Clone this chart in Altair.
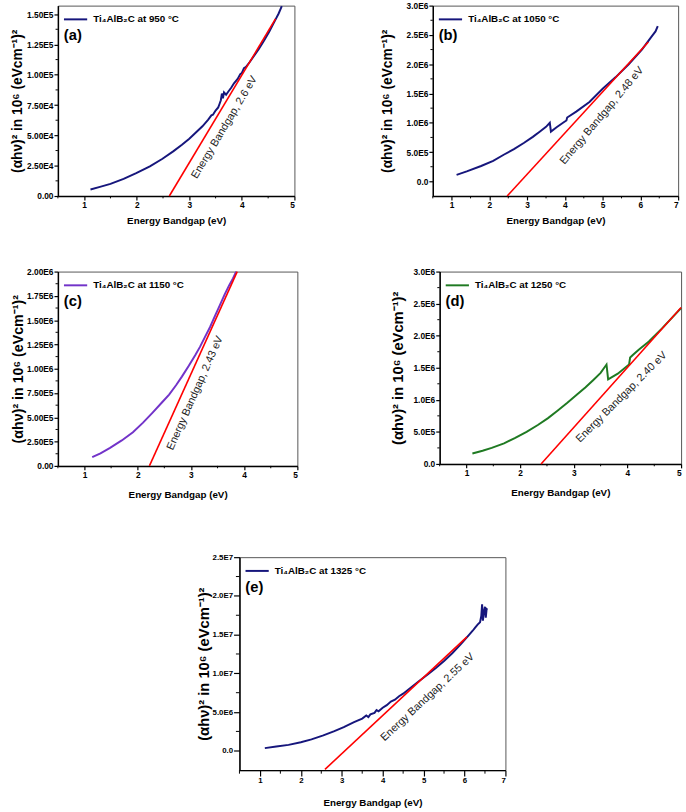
import altair as alt
import pandas as pd

FONT = "Liberation Sans"
NAVY = "#16167c"
PURPLE = "#7233c9"
GREEN = "#1f7a22"
RED = "#ff0000"

X_TITLE = "Energy Bandgap (eV)"
Y_TITLE = "(αhν)² in 10⁶ (eVcm⁻¹)²"

# ---------------- panel (a) ----------------
a_x = [1.12, 1.30, 1.50, 1.75, 1.99, 2.25, 2.49, 2.70, 2.86, 3.00, 3.11, 3.25, 3.36, 3.42,
       3.45, 3.50, 3.55, 3.58, 3.60, 3.62, 3.64, 3.66, 3.70, 3.74, 3.80, 3.85, 3.92, 3.97,
       4.00, 4.04, 4.08, 4.15, 4.23, 4.32, 4.42, 4.52, 4.61, 4.70, 4.76]
a_y = [5400, 7500, 10000, 14200, 18900, 24500, 30700, 37000, 42300, 47300, 51700, 57500,
       63000, 66500, 67000, 70500, 73000, 76500, 79000, 84500, 80500, 85500, 83500, 86000,
       89500, 93000, 96500, 100500, 101500, 105500, 106500, 110500, 115500, 121000, 128000,
       135500, 143000, 150500, 156500]
a_fit_x = [2.62, 4.64]
a_fit_y = [0, 146000]
a_note = ["Energy Bandgap, 2.6 eV"]
a_note_x = [3.67]
a_note_y = [56600]
a_legend = "Ti₄AlB₂C at 950 °C"
a_yticks = [0, 25000, 50000, 75000, 100000, 125000, 150000]
a_yminor = [12500, 37500, 62500, 87500, 112500, 137500]

# ---------------- panel (b) ----------------
b_x = [1.13, 1.40, 1.78, 2.10, 2.39, 2.65, 2.91, 3.15, 3.34, 3.50, 3.60, 3.63, 3.78, 3.95,
       4.04, 4.06, 4.30, 4.65, 5.00, 5.34, 5.69, 6.04, 6.30, 6.40, 6.46]
b_y = [112000, 170000, 263000, 350000, 459000, 550000, 655000, 760000, 852000, 930000,
       1000000, 850000, 924000, 1000000, 1040000, 1090000, 1190000, 1356000, 1580000,
       1776000, 2000000, 2250000, 2476000, 2560000, 2650000]
b_fit_x = [2.47, 6.21]
b_fit_y = [-250000, 2380000]
b_note = ["Energy Bandgap, 2.48 eV"]
b_note_x = [4.98]
b_note_y = [1120000]
b_legend = "Ti₄AlB₂C at 1050 °C"
b_yticks = [0, 500000, 1000000, 1500000, 2000000, 2500000, 3000000]
b_yminor = [250000, 750000, 1250000, 1750000, 2250000, 2750000]

# ---------------- panel (c) ----------------
c_x = [1.145, 1.30, 1.48, 1.70, 1.91, 2.10, 2.28, 2.45, 2.59, 2.72, 2.83, 2.96, 3.08,
       3.17, 3.26, 3.36, 3.45, 3.54, 3.63, 3.72, 3.79, 3.85]
c_y = [91000, 130000, 185000, 262000, 347000, 445000, 549000, 650000, 734000, 830000,
       919000, 1030000, 1138000, 1225000, 1323000, 1430000, 1542000, 1650000, 1761000,
       1860000, 1930000, 2000000]
c_fit_x = [2.22, 3.87]
c_fit_y = [0, 2000000]
c_note = ["Energy Bandgap, 2.43 eV"]
c_note_x = [3.08]
c_note_y = [750000]
c_legend = "Ti₄AlB₂C at 1150 °C"
c_yticks = [0, 250000, 500000, 750000, 1000000, 1250000, 1500000, 1750000, 2000000]
c_yminor = [125000, 375000, 625000, 875000, 1125000, 1375000, 1625000, 1875000]

# ---------------- panel (d) ----------------
d_x = [1.11, 1.30, 1.47, 1.70, 1.90, 2.12, 2.33, 2.52, 2.69, 2.88, 3.06, 3.22, 3.36, 3.50,
       3.61, 3.64, 3.82, 4.03, 4.05, 4.10, 4.21, 4.40, 4.64, 4.82, 5.00]
d_y = [163000, 205000, 250000, 320000, 403000, 500000, 607000, 715000, 827000, 955000,
       1082000, 1195000, 1306000, 1420000, 1550000, 1320000, 1408000, 1550000, 1660000,
       1700000, 1780000, 1910000, 2110000, 2270000, 2430000]
d_fit_x = [2.39, 5.00]
d_fit_y = [0, 2440000]
d_note = ["Energy Bandgap, 2.40 eV"]
d_note_x = [3.89]
d_note_y = [1040000]
d_legend = "Ti₄AlB₂C at 1250 °C"
d_yticks = [0, 500000, 1000000, 1500000, 2000000, 2500000, 3000000]
d_yminor = [250000, 750000, 1250000, 1750000, 2250000, 2750000]

# ---------------- panel (e) ----------------
e_x = [1.12, 1.40, 1.70, 2.00, 2.26, 2.55, 2.82, 3.05, 3.30, 3.50, 3.60, 3.65, 3.70, 3.80,
       3.85, 3.90, 4.00, 4.10, 4.20, 4.30, 4.40, 4.50, 4.70, 4.90, 5.10, 5.30, 5.50, 5.70,
       5.90, 6.10, 6.20, 6.26, 6.32, 6.38, 6.41, 6.43, 6.45, 6.47, 6.50, 6.52, 6.54, 6.56]
e_y = [340000, 550000, 760000, 1100000, 1470000, 1980000, 2530000, 3050000, 3700000,
       4150000, 4550000, 4350000, 4700000, 4900000, 5250000, 5100000, 5550000, 5890000,
       6350000, 6600000, 7050000, 7370000, 8200000, 9050000, 9850000, 10700000, 11600000,
       12600000, 13700000, 14900000, 15500000, 15900000, 16300000, 16600000, 17400000,
       18900000, 16800000, 17800000, 18600000, 17200000, 18300000, 18200000]
e_fit_x = [2.59, 6.06]
e_fit_y = [-2400000, 14700000]
e_note = ["Energy Bandgap, 2.55 eV"]
e_note_x = [5.10]
e_note_y = [6900000]
e_legend = "Ti₄AlB₂C at 1325 °C"
e_yticks = [0, 5000000, 10000000, 15000000, 20000000, 25000000]
e_yminor = [2500000, 7500000, 12500000, 17500000, 22500000]

x5_ticks = [1, 2, 3, 4, 5]
x5_minor = [0.5, 1.5, 2.5, 3.5, 4.5]
x7_ticks = [1, 2, 3, 4, 5, 6, 7]
x7_minor = [0.5, 1.5, 2.5, 3.5, 4.5, 5.5, 6.5]


def label_expr(dec):
    zero = "0." + "0" * dec
    mag = "floor(log(datum.value) / LN10 + 0.000001)"
    return (f"datum.value == 0 ? '{zero}' : format(datum.value / pow(10, {mag}), '.{dec}f') "
            f"+ 'E' + {mag}")


def panel(xs, ys, color, legend_text, fit_x, fit_y, note, note_x, note_y, angle,
          tag, xdom, ydom, xticks, xminor, yticks, yminor, dec, w, h,
          ytitle_size, ytpad, lab_size, tick, xtpad):
    df = pd.DataFrame({"x": xs, "y": ys, "series": [legend_text] * len(xs)})
    fit = pd.DataFrame({"x": fit_x, "y": fit_y})
    nt = pd.DataFrame({"x": note_x, "y": note_y, "t": note})
    xsc = alt.Scale(domain=xdom, nice=False, zero=False)
    ysc = alt.Scale(domain=ydom, nice=False, zero=False)
    xaxis = alt.Axis(values=xticks, title=X_TITLE, format="d", titlePadding=xtpad, labelPadding=1,
                     tickSize=tick, labelFontSize=lab_size)
    yaxis = alt.Axis(values=yticks, title=Y_TITLE, labelExpr=label_expr(dec), labelOverlap=False,
                     titlePadding=ytpad, labelPadding=1, titleFontSize=ytitle_size,
                     tickSize=tick, labelFontSize=lab_size)
    X = lambda f: alt.X(f, scale=xsc, axis=xaxis)
    Y = lambda f: alt.Y(f, scale=ysc, axis=yaxis)
    curve = alt.Chart(df).mark_line(strokeWidth=2).encode(
        x=X("x:Q"), y=Y("y:Q"),
        color=alt.Color("series:N", scale=alt.Scale(range=[color]),
                        legend=alt.Legend(title=None, orient="none", legendX=5, legendY=1,
                                          symbolType="stroke", symbolStrokeWidth=2,
                                          symbolSize=560, labelFont=FONT, labelFontSize=10,
                                          labelFontWeight="bold", labelColor="black",
                                          labelOffset=5, padding=0)),
    )
    fitline = alt.Chart(fit).mark_line(color=RED, strokeWidth=1.6).encode(x=X("x:Q"), y=Y("y:Q"))
    text = alt.Chart(nt).mark_text(angle=angle, font=FONT, fontSize=11, color="#222222").encode(
        x=X("x:Q"), y=Y("y:Q"), text="t:N")
    tagc = alt.Chart(pd.DataFrame({"t": [tag]})).mark_text(
        align="left", baseline="middle", font=FONT, fontSize=15, fontWeight="bold",
        color="black").encode(x=alt.value(6), y=alt.value(30), text="t:N")
    xm = alt.Chart(pd.DataFrame({"v": xminor})).mark_rule(color="black", strokeWidth=1).encode(
        x=X("v:Q"), y=alt.value(h), y2=alt.value(h + tick * 0.6))
    ym = alt.Chart(pd.DataFrame({"v": yminor})).mark_rule(color="black", strokeWidth=1).encode(
        y=Y("v:Q"), x=alt.value(0), x2=alt.value(-tick * 0.6))
    return alt.layer(curve, fitline, text, tagc, xm, ym).properties(width=w, height=h)


pa = panel(a_x, a_y, NAVY, a_legend, a_fit_x, a_fit_y, a_note, a_note_x, a_note_y, 301,
           "(a)", [0.5, 5], [0, 157000], x5_ticks, x5_minor, a_yticks, a_yminor, 2, 241, 194,
           14, 2, 8.5, 4, 7)
pb = panel(b_x, b_y, NAVY, b_legend, b_fit_x, b_fit_y, b_note, b_note_x, b_note_y, 310,
           "(b)", [0.5, 7], [-250000, 3000000], x7_ticks, x7_minor, b_yticks, b_yminor, 1, 250, 194,
           14, 12, 8.5, 4, 7)
pc = panel(c_x, c_y, PURPLE, c_legend, c_fit_x, c_fit_y, c_note, c_note_x, c_note_y, 294,
           "(c)", [0.5, 5], [0, 2000000], x5_ticks, x5_minor, c_yticks, c_yminor, 2, 244, 198,
           14.5, 1, 8.5, 4, 11)
pd_ = panel(d_x, d_y, GREEN, d_legend, d_fit_x, d_fit_y, d_note, d_note_x, d_note_y, 315,
            "(d)", [0.5, 5], [0, 3000000], x5_ticks, x5_minor, d_yticks, d_yminor, 1, 246, 196,
            15, 8, 8.5, 4, 11)
pe = panel(e_x, e_y, NAVY, e_legend, e_fit_x, e_fit_y, e_note, e_note_x, e_note_y, 317,
           "(e)", [0.5, 7], [-2500000, 25000000], x7_ticks, x7_minor, e_yticks, e_yminor, 1, 271, 217,
           15, 1, 8, 6, 13)

spacer = alt.Chart(pd.DataFrame({"v": [0]})).mark_point(opacity=0).encode(
    x=alt.value(0), y=alt.value(0)).properties(
    width=119, height=217, view=alt.ViewBackground(stroke="transparent"))

row1 = alt.hconcat(pa, pb, spacing=85).resolve_scale(color="independent")
row2 = alt.hconcat(pc, pd_, spacing=92).resolve_scale(color="independent")
row3 = alt.hconcat(spacer, pe, spacing=20).resolve_scale(color="independent")

top = alt.vconcat(row1, row2, spacing=41).resolve_scale(color="independent")
chart = alt.vconcat(top, row3, spacing=53).resolve_scale(color="independent").properties(
    padding={"left": 10, "top": -7, "right": 0, "bottom": 0}
).configure_view(stroke="#555555", strokeWidth=1).configure_axis(
    domainColor="black", domainWidth=1.5, tickColor="black", tickWidth=1.2,
    grid=False, labelFont=FONT, labelFontWeight="bold", labelColor="black",
    titleFont=FONT, titleFontWeight="bold", titleFontSize=10, titleColor="black"
)

chart.save("out.html", embed_options={"renderer": "svg", "actions": False})
